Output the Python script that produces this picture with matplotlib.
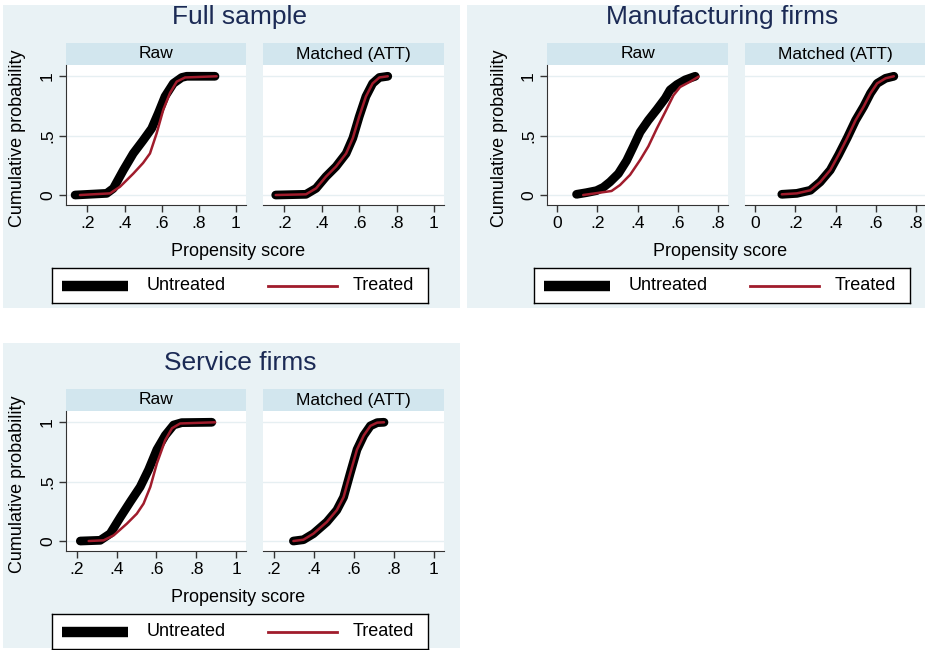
import numpy as np
import matplotlib
matplotlib.use("Agg")
import matplotlib.pyplot as plt
from matplotlib.patches import Rectangle

plt.rcParams['font.family'] = ['Liberation Sans', 'DejaVu Sans']

# ---- data (propensity score, cumulative probability) ----
full_raw_untr_x = [0.134, 0.304, 0.34, 0.394, 0.447, 0.50, 0.546, 0.582, 0.618, 0.663, 0.708, 0.735, 0.887]
full_raw_untr_y = [0.0, 0.014, 0.056, 0.21, 0.35, 0.46, 0.56, 0.69, 0.83, 0.94, 0.99, 1.0, 1.0]
full_raw_tr_x = [0.16, 0.322, 0.376, 0.447, 0.50, 0.537, 0.573, 0.609, 0.645, 0.681, 0.726, 0.896]
full_raw_tr_y = [0.0, 0.014, 0.07, 0.18, 0.27, 0.35, 0.52, 0.72, 0.86, 0.955, 0.99, 1.0]
full_att_untr_x = [0.153, 0.315, 0.369, 0.422, 0.476, 0.53, 0.566, 0.60, 0.636, 0.672, 0.708, 0.753]
full_att_untr_y = [0.0, 0.006, 0.056, 0.155, 0.24, 0.35, 0.48, 0.66, 0.83, 0.94, 0.99, 1.0]
full_att_tr_x = full_att_untr_x
full_att_tr_y = full_att_untr_y

man_raw_untr_x = [0.097, 0.146, 0.196, 0.23, 0.263, 0.305, 0.346, 0.38, 0.413, 0.454, 0.496, 0.538, 0.562, 0.596, 0.637, 0.687]
man_raw_untr_y = [0.006, 0.02, 0.037, 0.065, 0.11, 0.18, 0.29, 0.41, 0.53, 0.63, 0.72, 0.815, 0.885, 0.93, 0.97, 1.0]
man_raw_tr_x = [0.13, 0.213, 0.271, 0.313, 0.363, 0.413, 0.454, 0.496, 0.538, 0.579, 0.612, 0.662, 0.704]
man_raw_tr_y = [0.0, 0.02, 0.034, 0.084, 0.17, 0.295, 0.41, 0.56, 0.70, 0.84, 0.91, 0.955, 0.997]
man_att_untr_x = [0.133, 0.208, 0.275, 0.324, 0.374, 0.416, 0.458, 0.50, 0.54, 0.574, 0.607, 0.649, 0.69]
man_att_untr_y = [0.006, 0.014, 0.04, 0.11, 0.21, 0.34, 0.48, 0.63, 0.745, 0.857, 0.94, 0.983, 1.0]
man_att_tr_x = man_att_untr_x
man_att_tr_y = man_att_untr_y

svc_raw_untr_x = [0.217, 0.317, 0.367, 0.418, 0.468, 0.518, 0.56, 0.602, 0.644, 0.686, 0.727, 0.878]
svc_raw_untr_y = [0.0, 0.006, 0.062, 0.20, 0.33, 0.456, 0.60, 0.77, 0.89, 0.977, 0.997, 1.0]
svc_raw_tr_x = [0.259, 0.334, 0.385, 0.451, 0.501, 0.535, 0.569, 0.602, 0.644, 0.678, 0.719, 0.895]
svc_raw_tr_y = [0.0, 0.006, 0.048, 0.146, 0.23, 0.315, 0.456, 0.654, 0.85, 0.95, 0.99, 1.0]
svc_att_untr_x = [0.297, 0.347, 0.397, 0.464, 0.514, 0.548, 0.581, 0.615, 0.649, 0.682, 0.716, 0.75]
svc_att_untr_y = [0.0, 0.011, 0.062, 0.16, 0.26, 0.37, 0.57, 0.77, 0.89, 0.97, 0.997, 1.0]
svc_att_tr_x = svc_att_untr_x
svc_att_tr_y = svc_att_untr_y

titles = ["Full sample", "Manufacturing firms", "Service firms"]
strip_labels = ["Raw", "Matched (ATT)"]
legend_labels = ["Untreated", "Treated"]

W, H = 925, 650
BG = "#e9f2f5"
STRIP = "#d2e6ee"
NAVY = "#1b2a55"
RED = "#a01c2c"

fig = plt.figure(figsize=(W / 100, H / 100), dpi=100)
fig.patch.set_facecolor("white")


def rect(x0, y0, x1, y1):
    return [x0 / W, 1 - y1 / H, (x1 - x0) / W, (y1 - y0) / H]


def fx(x):
    return x / W


def fy(y):
    return 1 - y / H


def panel(ox, oy, bg_box, title, cx, subs, xlim, xticks, xticklabels, ylab_x):
    x0, y0, x1, y1 = bg_box
    fig.patches.append(Rectangle((fx(x0), fy(y1)), (x1 - x0) / W, (y1 - y0) / H,
                                 transform=fig.transFigure, facecolor=BG,
                                 edgecolor="none", zorder=-5))
    fig.text(fx(cx), fy(oy + 17), title, ha="center", va="center",
             fontsize=19, color=NAVY)
    for i, (ax_l, ax_r, ux, uy, tx, ty) in enumerate(subs):
        # strip header
        sax = fig.add_axes(rect(ax_l, oy + 43, ax_r, oy + 65))
        sax.set_facecolor(STRIP)
        sax.set_xticks([])
        sax.set_yticks([])
        for s in sax.spines.values():
            s.set_visible(False)
        sax.text(0.5, 0.5, strip_labels[i], ha="center", va="center",
                 fontsize=12.5, color="black", transform=sax.transAxes)
        # plot region
        ax = fig.add_axes(rect(ax_l, oy + 65, ax_r, oy + 205))
        ax.set_facecolor("white")
        for yv in [0, 0.5, 1]:
            ax.axhline(yv, color="#e6eff2", lw=1, zorder=1)
        ax.plot(ux, uy, color="black", lw=6.3, solid_capstyle="round",
                solid_joinstyle="round", zorder=2)
        ax.plot(tx, ty, color=RED, lw=1.8, solid_capstyle="round", zorder=3)
        ax.set_xlim(*xlim)
        ax.set_ylim(-0.084, 1.095)
        ax.set_xticks(xticks)
        ax.set_xticklabels(xticklabels, fontsize=12.5)
        ax.set_yticks([0, 0.5, 1])
        ax.spines["top"].set_visible(False)
        ax.spines["right"].set_visible(False)
        ax.spines["left"].set_color("#333333")
        ax.spines["bottom"].set_color("#333333")
        ax.tick_params(axis="both", direction="out", length=5, width=1,
                       color="#333333", pad=3)
        if i == 0:
            ax.set_yticklabels(["0", ".5", "1"], fontsize=12.5, rotation=90,
                               va="center")
        else:
            ax.set_yticklabels([])
            ax.tick_params(axis="y", length=0)
            ax.spines["left"].set_visible(False)
    fig.text(fx(ylab_x), fy(oy + 138), "Cumulative probability", rotation=90,
             ha="center", va="center", fontsize=13)
    fig.text(fx(cx - 2), fy(oy + 251), "Propensity score", ha="center",
             va="center", fontsize=13)
    # legend box
    lx0 = cx - 188
    lax = fig.add_axes(rect(lx0, oy + 268, lx0 + 376, oy + 303))
    lax.set_xlim(0, 376)
    lax.set_ylim(0, 35)
    lax.set_xticks([])
    lax.set_yticks([])
    for s in lax.spines.values():
        s.set_color("black")
        s.set_linewidth(1)
    lax.plot([10, 76], [17.5, 17.5], color="black", lw=7.5, solid_capstyle="butt")
    lax.plot([216, 285], [17.5, 17.5], color=RED, lw=2)
    lax.text(95, 17, legend_labels[0], va="center", fontsize=13)
    lax.text(301, 17, legend_labels[1], va="center", fontsize=13)


panel(0, 0, (3, 5, 460, 308), titles[0], 240,
      [(66, 246, full_raw_untr_x, full_raw_untr_y, full_raw_tr_x, full_raw_tr_y),
       (263, 444, full_att_untr_x, full_att_untr_y, full_att_tr_x, full_att_tr_y)],
      (0.085, 1.054), [0.2, 0.4, 0.6, 0.8, 1.0], [".2", ".4", ".6", ".8", "1"], 18)

panel(0, 0, (467, 5, 925, 308), titles[1], 722,
      [(547, 728, man_raw_untr_x, man_raw_untr_y, man_raw_tr_x, man_raw_tr_y),
       (745, 926, man_att_untr_x, man_att_untr_y, man_att_tr_x, man_att_tr_y)],
      (-0.05, 0.85), [0, 0.2, 0.4, 0.6, 0.8], ["0", ".2", ".4", ".6", ".8"], 499)

panel(0, 346, (3, 343, 460, 648), titles[2], 240,
      [(66, 246, svc_raw_untr_x, svc_raw_untr_y, svc_raw_tr_x, svc_raw_tr_y),
       (263, 444, svc_att_untr_x, svc_att_untr_y, svc_att_tr_x, svc_att_tr_y)],
      (0.145, 1.05), [0.2, 0.4, 0.6, 0.8, 1.0], [".2", ".4", ".6", ".8", "1"], 18)

fig.savefig("out.png", dpi=100)
